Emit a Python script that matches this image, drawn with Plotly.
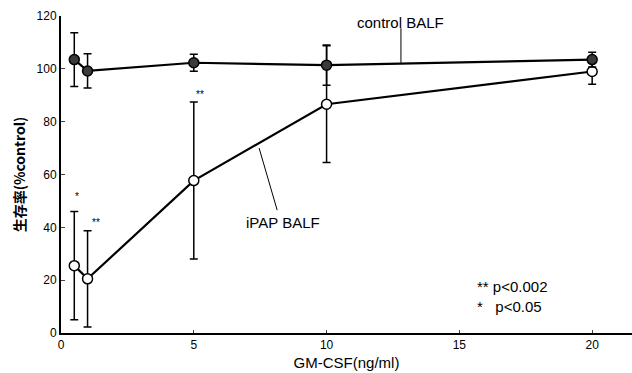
import plotly.graph_objects as go

dose = [0.5, 1, 5, 10, 20]
control_mean = [103.5, 99.2, 102.3, 101.4, 103.5]
control_err = [10.2, 6.5, 3.2, 7.6, 2.8]
ipap_mean = [25.5, 20.5, 57.7, 86.6, 99.0]
ipap_err = [20.5, 18.2, 29.7, 22.1, 4.8]

xticks = [0, 5, 10, 15, 20]
yticks = [0, 20, 40, 60, 80, 100, 120]

FONT = "Liberation Sans, Arial, sans-serif"

fig = go.Figure()
fig.add_trace(go.Scatter(
    x=dose, y=ipap_mean, mode="lines+markers",
    line=dict(color="black", width=2.2),
    marker=dict(size=10, color="white", line=dict(color="black", width=1.5)),
    error_y=dict(type="data", array=ipap_err, color="black", thickness=1.5, width=4),
    showlegend=False, cliponaxis=False))
fig.add_trace(go.Scatter(
    x=dose, y=control_mean, mode="lines+markers",
    line=dict(color="black", width=2.2),
    marker=dict(size=10, color="#3a3a3a", line=dict(color="black", width=1.5)),
    error_y=dict(type="data", array=control_err, color="black", thickness=1.5, width=4),
    showlegend=False, cliponaxis=False))

# leader lines
fig.add_shape(type="line", x0=12.8, x1=12.8, y0=115.4, y1=102.3, xref="x", yref="y",
              line=dict(color="black", width=1))
fig.add_shape(type="line", x0=7.46, x1=8.14, y0=70.0, y1=46.5, xref="x", yref="y",
              line=dict(color="black", width=1))

fig.add_annotation(x=12.8, y=117.5, text="control BALF", showarrow=False,
                   font=dict(family=FONT, size=15, color="black"))
fig.add_annotation(x=8.37, y=41.9, text="iPAP BALF", showarrow=False,
                   font=dict(family=FONT, size=15, color="black"))
fig.add_annotation(x=0.6, y=51.5, text="*", showarrow=False,
                   font=dict(family=FONT, size=10, color="black"))
fig.add_annotation(x=1.32, y=42.0, text="**", showarrow=False,
                   font=dict(family=FONT, size=10, color="black"))
fig.add_annotation(x=5.24, y=90.2, text="**", showarrow=False,
                   font=dict(family=FONT, size=10, color="black"))
fig.add_annotation(x=15.6, y=13.9, text="** p&lt;0.002<br>*   p&lt;0.05", showarrow=False,
                   xanchor="left", yanchor="middle", align="left",
                   font=dict(family=FONT, size=15, color="black"))

fig.update_layout(
    width=632, height=373,
    margin=dict(l=61, r=0, t=16, b=40, autoexpand=False),
    paper_bgcolor="white", plot_bgcolor="white",
    font=dict(family=FONT, size=12, color="black"),
    xaxis=dict(range=[0, 21.5], tickvals=xticks, ticks="inside", ticklen=3,
               showline=True, linecolor="black", linewidth=2, showgrid=False,
               zeroline=False, tickfont=dict(size=12), automargin=False,
               title=dict(text="GM-CSF(ng/ml)", font=dict(size=15), standoff=6)),
    yaxis=dict(range=[0, 120], tickvals=yticks, ticks="inside", ticklen=4,
               showline=True, linecolor="black", linewidth=2, showgrid=False,
               zeroline=False, tickfont=dict(size=12), automargin=False,
               title=dict(text="<b>生存率(%control)</b>",
                          font=dict(size=14, family="Noto Sans CJK JP, " + FONT),
                          standoff=8)),
)

fig.write_html("out.html", config={"displayModeBar": False},
               post_script="document.body.style.margin='0px';document.body.style.overflow='hidden';")
